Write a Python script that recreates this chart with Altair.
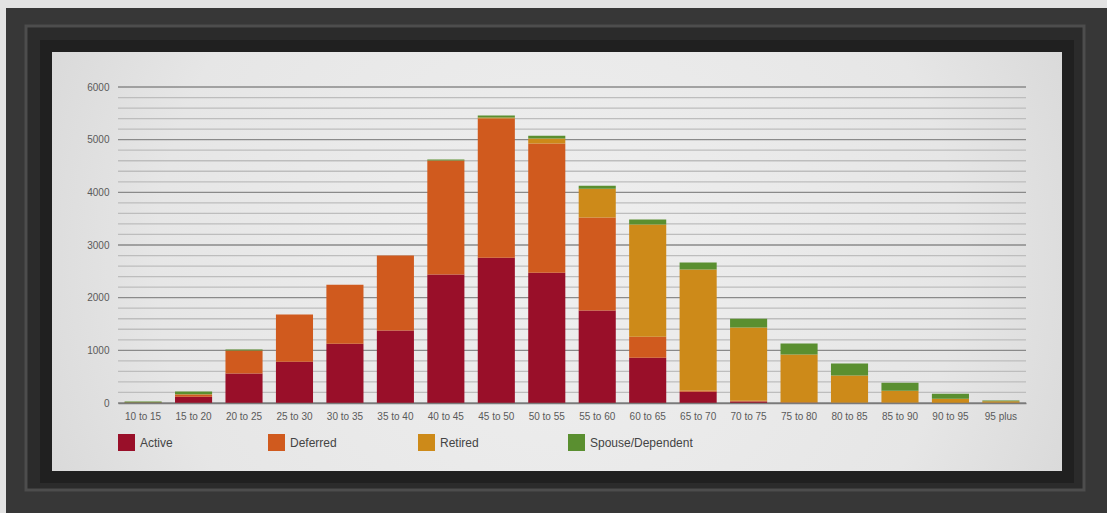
import altair as alt
import pandas as pd

# Age bands along the x axis
age_bands = ["10 to 15", "15 to 20", "20 to 25", "25 to 30", "30 to 35", "35 to 40",
             "40 to 45", "45 to 50", "50 to 55", "55 to 60", "60 to 65", "65 to 70",
             "70 to 75", "75 to 80", "80 to 85", "85 to 90", "90 to 95", "95 plus"]

# Member counts per status, one value per age band
active = [5, 120, 560, 785, 1125, 1375, 2440, 2760, 2475, 1755, 860, 215,
          30, 5, 0, 0, 0, 0]
deferred = [5, 40, 435, 895, 1120, 1425, 2165, 2640, 2450, 1765, 400, 20,
            12, 5, 5, 3, 0, 5]
retired = [0, 5, 0, 0, 0, 0, 0, 20, 95, 550, 2130, 2300,
           1390, 910, 515, 230, 80, 30]
spouse = [20, 55, 20, 0, 0, 0, 20, 40, 55, 55, 95, 135,
          170, 210, 230, 150, 95, 12]

series_names = ["Active", "Deferred", "Retired", "Spouse/Dependent"]
series_values = [active, deferred, retired, spouse]
series_colors = ["#990f29", "#d05a1e", "#cd8a19", "#5a8f30"]

# Horizontal guide lines: light every 200, darker every 1000
minor_lines = [v for v in range(0, 6001, 200) if v % 1000 != 0]
major_lines = list(range(0, 6001, 1000))

rows = []
for k, (name, vals) in enumerate(zip(series_names, series_values)):
    for band, v in zip(age_bands, vals):
        rows.append({"band": band, "status": name, "count": v, "k": k})
df = pd.DataFrame(rows)

FONT = "Liberation Sans"
W, H = 908, 316
y_scale = alt.Scale(domain=[0, 6000], nice=False)
one_row = alt.Data(values=[{}])


def panel(x0, y0, x1, y1, **style):
    """A decorative rectangle placed in pixels relative to the plot origin."""
    return alt.Chart(one_row).mark_rect(**style).encode(
        x=alt.value(x0), x2=alt.value(x1), y=alt.value(y0), y2=alt.value(y1)
    )


# Picture frame around the chart: dark moulding, a raised bead, an inner shadow
frame = panel(-112, -79, 989, 426, fill="#373737")
bead = panel(-92, -61, 966, 403, fill="#2b2b2b", stroke="#4d4d4d", strokeWidth=3)
shadow = panel(-78, -47, 956, 396, fill="#202020")

# Light mat behind the chart, with a soft vignette toward the edges
mat_fill = alt.RadialGradient(
    gradient="radial",
    stops=[alt.GradientStop(offset=0.0, color="#efefef"),
           alt.GradientStop(offset=0.55, color="#e6e6e6"),
           alt.GradientStop(offset=0.85, color="#d4d4d4"),
           alt.GradientStop(offset=1.0, color="#b4b4b4")],
    x1=0.5, y1=0.5, r1=0, x2=0.5, y2=0.5, r2=0.72,
)
mat = panel(-66, -35, 944, 384, color=mat_fill)

minor_grid = alt.Chart(pd.DataFrame({"v": minor_lines})).mark_rule(
    color="#bdbdbd", strokeWidth=1.3
).encode(y=alt.Y("v:Q", scale=y_scale, title=None))

major_grid = alt.Chart(pd.DataFrame({"v": major_lines})).mark_rule(
    color="#8a8a8a", strokeWidth=1.3
).encode(y=alt.Y("v:Q", scale=y_scale, title=None))

bars = alt.Chart(df).mark_bar(strokeWidth=0).encode(
    x=alt.X("band:N", sort=age_bands, title=None,
            scale=alt.Scale(paddingInner=0.265, paddingOuter=0.13),
            axis=alt.Axis(labelAngle=0, ticks=False, labelPadding=8,
                          labelFontSize=10, labelColor="#5a5a5a", labelFont=FONT,
                          domainColor="#7a7a7a", domainWidth=1.5, grid=False,
                          zindex=1)),
    y=alt.Y("count:Q", stack="zero", title=None, scale=y_scale,
            axis=alt.Axis(values=major_lines, format="d", ticks=False,
                          domain=False, labelPadding=9, grid=False, zindex=1,
                          labelFontSize=10, labelColor="#5a5a5a", labelFont=FONT)),
    color=alt.Color("status:N", sort=series_names,
                    scale=alt.Scale(domain=series_names, range=series_colors),
                    legend=alt.Legend(orient="none", legendX=0, legendY=347,
                                      direction="horizontal", columns=4,
                                      gridAlign="all", columnPadding=25,
                                      symbolType="square", symbolSize=289,
                                      symbolStrokeWidth=0, symbolOpacity=1,
                                      labelFontSize=12, labelColor="#444444",
                                      labelFont=FONT, labelOffset=5,
                                      padding=0, title=None)),
    order=alt.Order("k:Q", sort="ascending"),
)

chart = alt.layer(frame, bead, shadow, mat, minor_grid, major_grid, bars).properties(
    width=W, height=H,
    background="#e2e2e2",
    padding={"left": 6, "top": 8, "right": 0, "bottom": 0},
).configure_view(stroke=None)

chart.save("out.html", embed_options={"renderer": "svg", "actions": False})
